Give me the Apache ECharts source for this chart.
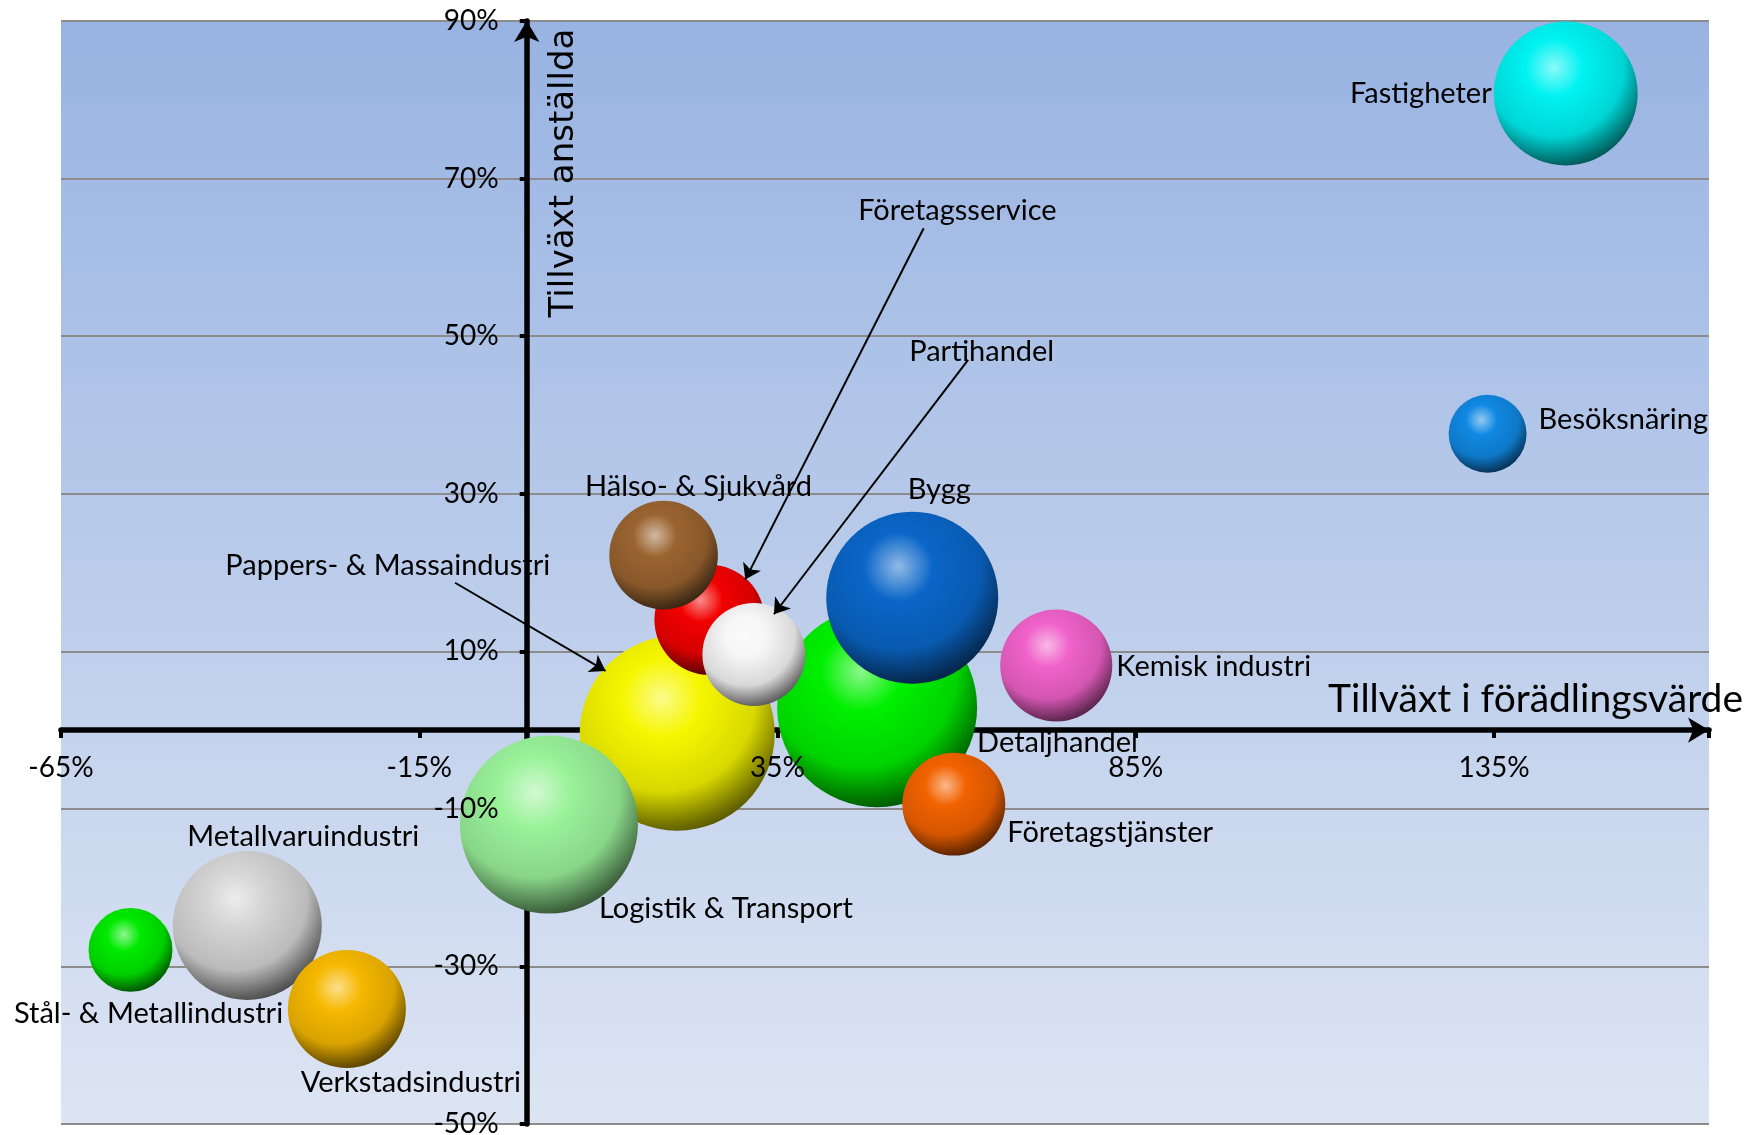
<!DOCTYPE html>
<html>
<head>
<meta charset="utf-8">
<script src="https://cdn.jsdelivr.net/npm/echarts@6/dist/echarts.min.js"></script>
<style>
  html, body { margin: 0; padding: 0; background: #fff; }
  #chart { width: 1749px; height: 1135px; }
</style>
</head>
<body>
<div id="chart"></div>
<script>
// Branscher: tillväxt i förädlingsvärde (x), tillväxt anställda (y), storlek (bubbla)
const branscher = ['Fastigheter', 'Besöksnäring', 'Bygg', 'Kemisk industri', 'Detaljhandel',
  'Företagstjänster', 'Hälso- & Sjukvård', 'Företagsservice', 'Partihandel',
  'Pappers- & Massaindustri', 'Logistik & Transport', 'Metallvaruindustri',
  'Stål- & Metallindustri', 'Verkstadsindustri'];
const tillvaxtForadling = [145.0, 134.1, 53.8, 73.9, 48.9, 59.6, 19.1, 25.5, 31.7, 21.0, 3.1, -39.0, -55.3, -25.1];
const tillvaxtAnstallda = [80.8, 37.6, 16.8, 8.2, 2.9, -9.4, 22.2, 14.0, 9.6, -0.4, -12.0, -24.8, -27.9, -35.4];
const storlek = [51.8, 15.2, 74.0, 31.4, 100, 26.5, 29.5, 30.3, 26.5, 95.1, 79.2, 55.5, 17.6, 34.8];

// etiketter med pil: text-position, pilens start och spets (i dataenheter)
const pilEtiketter = ['Företagsservice', 'Partihandel', 'Pappers- & Massaindustri'];
const pilText = [[60.1, 65.9], [63.5, 48.0], [-19.4, 20.9]];
const pilStart = [[55.4, 63.7], [61.6, 47.0], [-10.0, 18.7]];
const pilSpets = [[30.5, 19.1], [34.5, 14.7], [11.0, 7.5]];

// färger
const FARG = {
  'Fastigheter': '#00F2F2',
  'Besöksnäring': '#1088E2',
  'Bygg': '#0A66C8',
  'Kemisk industri': '#F062CA',
  'Detaljhandel': '#00F000',
  'Företagstjänster': '#F26200',
  'Hälso- & Sjukvård': '#9A6430',
  'Företagsservice': '#F20000',
  'Partihandel': '#F6F6F6',
  'Pappers- & Massaindustri': '#F6F600',
  'Logistik & Transport': '#9AF29A',
  'Metallvaruindustri': '#D4D4D4',
  'Stål- & Metallindustri': '#00EA00',
  'Verkstadsindustri': '#F6B800'
};

// etikettplacering
const ETIKETT = {
  'Fastigheter': { position: 'left', distance: 2 },
  'Besöksnäring': { position: 'right', distance: 12, offset: [0, -14] },
  'Bygg': { position: 'top', distance: 8, offset: [27, 0] },
  'Kemisk industri': { position: 'right', distance: 4, offset: [0, 1] },
  'Detaljhandel': { position: 'right', distance: 0, offset: [0, 35] },
  'Företagstjänster': { position: 'right', distance: 2, offset: [0, 29] },
  'Hälso- & Sjukvård': { position: 'top', distance: 0, offset: [35, 0] },
  'Logistik & Transport': { position: 'inside', align: 'left', offset: [50, 84] },
  'Metallvaruindustri': { position: 'top', distance: 0, offset: [56, 0] },
  'Stål- & Metallindustri': { position: 'bottom', distance: 7, offset: [18, 0] },
  'Verkstadsindustri': { position: 'bottom', distance: 0, offset: [64, 0] }
};

const FONT = 'Lato, "Noto Sans", sans-serif';

function mix(hex, target, t) {
  const a = parseInt(hex.slice(1), 16), b = parseInt(target.slice(1), 16);
  const ch = (v, s) => (v >> s) & 255;
  const m = s => Math.round(ch(a, s) + (ch(b, s) - ch(a, s)) * t);
  return 'rgb(' + m(16) + ',' + m(8) + ',' + m(0) + ')';
}

function sphere(base) {
  return new echarts.graphic.RadialGradient(0.42, 0.32, 0.8, [
    { offset: 0, color: mix(base, '#ffffff', 0.55) },
    { offset: 0.25, color: base },
    { offset: 0.6, color: mix(base, '#000000', 0.12) },
    { offset: 0.82, color: mix(base, '#000000', 0.55) },
    { offset: 0.92, color: mix(base, '#000000', 0.72) },
    { offset: 1, color: mix(base, '#000000', 0.2) }
  ]);
}

// större bubblor ritas först
const ordning = branscher.map((b, i) => i).sort((a, b) => storlek[b] - storlek[a]);

const bubbelData = ordning.map(i => {
  const namn = branscher[i];
  const lab = ETIKETT[namn];
  return {
    name: namn,
    value: [tillvaxtForadling[i], tillvaxtAnstallda[i], storlek[i]],
    itemStyle: { color: sphere(FARG[namn]), opacity: 1 },
    label: lab ? Object.assign({ show: true }, lab) : { show: false }
  };
});

const chart = echarts.init(document.getElementById('chart'));

const axisLineStyle = { color: '#000', width: 5.5 };

chart.setOption({
  animation: false,
  backgroundColor: '#fff',
  grid: {
    left: 61, right: 40, top: 21, bottom: 11,
    outerBoundsMode: 'none',
    containLabel: false,
    show: true,
    borderWidth: 0,
    backgroundColor: new echarts.graphic.LinearGradient(0, 0, 0, 1, [
      { offset: 0, color: '#98B3E2' },
      { offset: 1, color: '#DDE5F3' }
    ])
  },
  xAxis: [{
    type: 'value', min: -65, max: 165, interval: 50, z: 1,
    axisLine: { onZero: true, symbol: ['none', 'arrow'], symbolSize: [19, 21], lineStyle: axisLineStyle },
    axisTick: { show: true, length: 8, lineStyle: { color: '#000', width: 4 } },
    axisLabel: { show: false },
    splitLine: { show: false }
  }, {
    type: 'value', min: -65, max: 165, interval: 50, z: 5, position: 'bottom',
    axisLine: { show: false, onZero: false },
    axisTick: { show: false },
    splitLine: { show: false },
    axisLabel: { formatter: '{value}%', margin: 24, fontSize: 28, color: '#000', fontFamily: FONT, showMaxLabel: false }
  }],
  yAxis: [{
    type: 'value', min: -50, max: 90, interval: 20, z: 1,
    axisLine: { onZero: true, symbol: ['none', 'arrow'], symbolSize: [19, 21], lineStyle: axisLineStyle },
    axisTick: { show: true, length: 7, lineStyle: { color: '#000', width: 4 } },
    axisLabel: { show: false },
    splitLine: { show: true, lineStyle: { color: '#8C8C8C', width: 2 } }
  }, {
    type: 'value', min: -50, max: 90, interval: 20, z: 5, position: 'left',
    axisLine: { show: false, onZero: false },
    axisTick: { show: false },
    splitLine: { show: false },
    axisLabel: { formatter: '{value}%', margin: 28, fontSize: 28, color: '#000', fontFamily: FONT }
  }],
  graphic: [{
    type: 'text', x: 564, y: 173, rotation: Math.PI / 2, z: 100,
    style: {
      text: 'Tillväxt anställda', fill: '#000',
      font: '34px "DejaVu Sans", sans-serif',
      align: 'center', verticalAlign: 'middle', textAlign: 'center', textVerticalAlign: 'middle'
    }
  }, {
    type: 'text', x: 1743, y: 699, z: 100,
    style: {
      text: 'Tillväxt i förädlingsvärde', fill: '#000',
      font: '39px Lato, sans-serif',
      align: 'right', verticalAlign: 'middle', textAlign: 'right', textVerticalAlign: 'middle'
    }
  }],
  series: [{
    type: 'scatter',
    xAxisIndex: 0, yAxisIndex: 0,
    z: 2,
    symbolSize: v => 20 * Math.sqrt(v[2]),
    label: { formatter: '{b}', fontSize: 29, color: '#000', fontFamily: FONT },
    emphasis: { disabled: true },
    data: bubbelData
  }, {
    type: 'scatter',
    xAxisIndex: 0, yAxisIndex: 0,
    z: 4,
    symbolSize: 1,
    itemStyle: { color: 'rgba(0,0,0,0)', opacity: 1 },
    label: { show: true, position: 'inside', formatter: '{b}', fontSize: 29, color: '#000', opacity: 1, fontFamily: FONT },
    emphasis: { disabled: true },
    data: pilEtiketter.map((n, i) => ({ name: n, value: pilText[i] })),
    markLine: {
      silent: true,
      symbol: ['none', 'arrow'],
      symbolSize: 15,
      label: { show: false },
      lineStyle: { color: '#000', width: 2, type: 'solid', opacity: 1 },
      data: pilStart.map((s, i) => [{ coord: s }, { coord: pilSpets[i] }])
    }
  }]
});

// flytta etikettaxlarna till nollinjerna (över bubblorna, axellinjerna under)
const x0 = chart.convertToPixel({ xAxisIndex: 0 }, 0);
const xMin = chart.convertToPixel({ xAxisIndex: 0 }, -65);
const y0 = chart.convertToPixel({ yAxisIndex: 0 }, 0);
const yMin = chart.convertToPixel({ yAxisIndex: 0 }, -50);
chart.setOption({
  xAxis: [{}, { offset: -(yMin - y0) }],
  yAxis: [{}, { offset: -(x0 - xMin) }]
});
</script>
</body>
</html>
